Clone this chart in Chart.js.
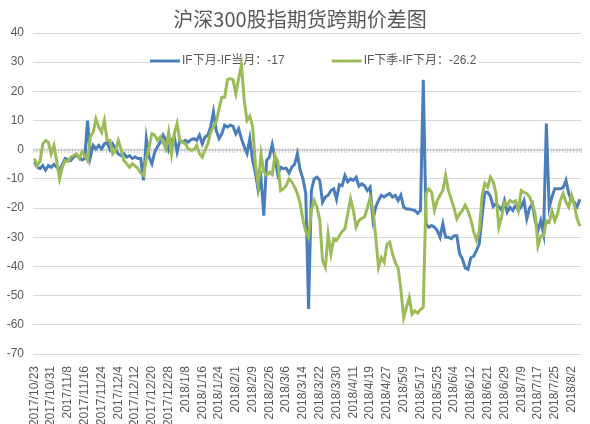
<!DOCTYPE html>
<html>
<head>
<meta charset="utf-8">
<script src="https://cdn.jsdelivr.net/npm/chart.js@4.4.1/dist/chart.umd.min.js"></script>
<style>
  html, body { margin: 0; padding: 0; background: #fff; }
  #wrap { position: relative; width: 590px; height: 424px; }
  #title { position: absolute; left: 0; width: 600px; top: 6px; line-height: 26px; text-align: center;
           font-family: "Noto Sans CJK SC", sans-serif; font-size: 20px; color: #595959; }
</style>
</head>
<body>
<div id="wrap">
  <canvas id="chart" width="590" height="424"></canvas>
  <div id="title">沪深300股指期货跨期价差图</div>
</div>
<script>
// trading days, 2017/10/23 - 2018/8/7
const dates = [
  '2017/10/23','2017/10/24','2017/10/25','2017/10/26','2017/10/27','2017/10/30','2017/10/31',
  '2017/11/1','2017/11/2','2017/11/3','2017/11/6','2017/11/7','2017/11/8','2017/11/9','2017/11/10','2017/11/13','2017/11/14','2017/11/15','2017/11/16','2017/11/17','2017/11/20','2017/11/21','2017/11/22','2017/11/23','2017/11/24','2017/11/27','2017/11/28','2017/11/29','2017/11/30',
  '2017/12/1','2017/12/4','2017/12/5','2017/12/6','2017/12/7','2017/12/8','2017/12/11','2017/12/12','2017/12/13','2017/12/14','2017/12/15','2017/12/18','2017/12/19','2017/12/20','2017/12/21','2017/12/22','2017/12/25','2017/12/26','2017/12/27','2017/12/28','2017/12/29',
  '2018/1/2','2018/1/3','2018/1/4','2018/1/5','2018/1/8','2018/1/9','2018/1/10','2018/1/11','2018/1/12','2018/1/15','2018/1/16','2018/1/17','2018/1/18','2018/1/19','2018/1/22','2018/1/23','2018/1/24','2018/1/25','2018/1/26','2018/1/29','2018/1/30','2018/1/31',
  '2018/2/1','2018/2/2','2018/2/5','2018/2/6','2018/2/7','2018/2/8','2018/2/9','2018/2/12','2018/2/13','2018/2/14','2018/2/22','2018/2/23','2018/2/26','2018/2/27','2018/2/28',
  '2018/3/1','2018/3/2','2018/3/5','2018/3/6','2018/3/7','2018/3/8','2018/3/9','2018/3/12','2018/3/13','2018/3/14','2018/3/15','2018/3/16','2018/3/19','2018/3/20','2018/3/21','2018/3/22','2018/3/23','2018/3/26','2018/3/27','2018/3/28','2018/3/29','2018/3/30',
  '2018/4/2','2018/4/3','2018/4/4','2018/4/9','2018/4/10','2018/4/11','2018/4/12','2018/4/13','2018/4/16','2018/4/17','2018/4/18','2018/4/19','2018/4/20','2018/4/23','2018/4/24','2018/4/25','2018/4/26','2018/4/27',
  '2018/5/2','2018/5/3','2018/5/4','2018/5/7','2018/5/8','2018/5/9','2018/5/10','2018/5/11','2018/5/14','2018/5/15','2018/5/16','2018/5/17','2018/5/18','2018/5/21','2018/5/22','2018/5/23','2018/5/24','2018/5/25','2018/5/28','2018/5/29','2018/5/30','2018/5/31',
  '2018/6/1','2018/6/4','2018/6/5','2018/6/6','2018/6/7','2018/6/8','2018/6/11','2018/6/12','2018/6/13','2018/6/14','2018/6/15','2018/6/19','2018/6/20','2018/6/21','2018/6/22','2018/6/25','2018/6/26','2018/6/27','2018/6/28','2018/6/29',
  '2018/7/2','2018/7/3','2018/7/4','2018/7/5','2018/7/6','2018/7/9','2018/7/10','2018/7/11','2018/7/12','2018/7/13','2018/7/16','2018/7/17','2018/7/18','2018/7/19','2018/7/20','2018/7/23','2018/7/24','2018/7/25','2018/7/26','2018/7/27','2018/7/30','2018/7/31',
  '2018/8/1','2018/8/2','2018/8/3','2018/8/6','2018/8/7'
];

// IF下月-IF当月
const nextMinusCur = [
  -4.2, -6, -6.5, -5.4, -7, -5.4, -6, -5, -6, -7,
  -5, -3, -3.5, -3.7, -2.5, -2, -2.5, -3.5, -3, 10,
  -2.5, 1.5, 0.3, 1.5, 0.3, 2, 2.6, 0, 2, 0.3,
  -1.5, -2, -1.4, -2.5, -2, -3, -2.5, -3, -3, -10.5,
  3.8, -2.5, -4.8, -0.8, 1, 2.6, 5, 3.2, 0, 3.2,
  4.4, -0.8, 3.2, 2.6, 3.2, 2.6, 3.5, 3.8, 3.2, 5,
  2, 4.4, 5, 7.8, 13, 6.6, 3.8, 5.5, 8.4, 7.8,
  8.4, 8, 5.5, 7.2, 3.8, 1, -1.3, 3.8, -3.6, -8,
  -14, -10, -22.6, -3.7, -2.5, 1.8, -3, -8.5, -6, -6.5,
  -6.3, -8, -6, -5, -1.4, -7, -10, -15, -54.6, -14,
  -10, -9.4, -10.5, -18, -16.2, -15.6, -14, -13.4, -17, -12,
  -12.3, -8.8, -11, -10, -10.5, -9.4, -12.5, -11.7, -12.3, -14,
  -12.8, -24, -19.7, -17.4, -15.6, -16.2, -15.5, -15, -16.2, -15.6,
  -17.4, -15.6, -19.7, -20.3, -20.3, -20.6, -20.8, -21.8, -20.8, 24,
  -25.4, -26.6, -26, -26.5, -27.7, -30, -25.4, -30, -30, -30.5,
  -29.5, -29.5, -35.7, -37.5, -40.5, -41, -37, -36.5, -34.6, -32.3,
  -23, -14.6, -14.6, -16, -19.5, -18.5, -19.5, -20.8, -17.4, -21.4,
  -19.7, -20.8, -19, -20.8, -19.5, -17.4, -23.7, -20, -18.5, -24.3,
  -27.7, -24.3, -28.8, 9, -19.7, -16.2, -13.4, -13.4, -13.4, -13,
  -10.5, -15, -17.4, -18, -19.5, -17
];

// IF下季-IF下月
const quarterMinusNext = [
  -3, -5.5, -4, 2, 3.2, 2.6, -1.4, 1.5, -4, -10,
  -6, -3.7, -4, -2.5, -2, -1.4, -3, -0.8, -2, -3.7,
  4.4, 6, 10.6, 7.8, 6, 10, 3.2, 3.2, -1.4, -0.2,
  3.2, 0, -3.7, -4.8, -6, -4.8, -5.5, -6.5, -8, -8.8,
  -3, 1, 5.5, 5, 3.2, 4.4, 2.6, 0.3, 6, -1.4,
  5.5, 9, 3.2, 2.6, 2, 0.3, -0.2, 0, 1.5, -1.4,
  -2.5, 0, 2, 6, 8, 9.5, 14, 18, 18, 24,
  24.4, 24, 19.2, 24.4, 29, 17, 10, 11.5, 8, -4.8,
  -12, -1.5, -7.5, -8.8, -7.7, -8.5, -2, -4, -14, -13.4,
  -12.3, -10, -11, -12.8, -15, -18.5, -24, -28, -30, -20.8,
  -17.4, -19.7, -24, -38, -40.3, -29, -35.7, -30.5, -31, -29.5,
  -28, -27, -22, -16.8, -20.8, -26.5, -24.3, -23.5, -23, -20,
  -16.5, -20.3, -30, -40.3, -37, -38.6, -32.5, -31.7, -35.7, -38.6,
  -40.5, -48, -57.5, -54, -50.6, -56.3, -55.2, -56, -54.8, -54,
  -15, -13.4, -14.6, -20.8, -17.4, -15.6, -14, -8.8, -14, -17,
  -20, -23.7, -22, -20.8, -19, -21, -24, -28, -31, -28,
  -16, -11.5, -12.8, -9.4, -11, -15, -26.6, -23, -18, -19,
  -17.4, -18, -17.5, -20.8, -14, -14.6, -15, -16.2, -18.5, -22,
  -32.9, -29.5, -29.5, -24.3, -24.9, -21, -24.3, -22, -17.4, -15,
  -18, -19.7, -15.6, -19, -23.7, -26.2
];

const seriesNames = ['IF下月-IF当月：-17', 'IF下季-IF下月：-26.2'];
const seriesColors = ['#4a7ebb', '#9bbb59'];
const yMin = -70, yMax = 40, yStep = 10;
const labelEvery = 6;

const textFont = '12px "Liberation Sans", "Noto Sans CJK SC", sans-serif';

// legend sits inside the plot (excel style): white box over the grid, lines drawn over it
const insideLegend = {
  id: 'insideLegend',
  beforeDatasetsDraw(chart) {
    const ctx = chart.ctx;
    const x0 = 150, yc = 61, swatch = 30, gap = 47;
    ctx.save();
    ctx.font = textFont;
    const w0 = ctx.measureText(seriesNames[0]).width;
    const w1 = ctx.measureText(seriesNames[1]).width;
    const total = swatch + 2 + w0 + gap + swatch + 2 + w1 + 3;
    ctx.fillStyle = '#fff';
    ctx.fillRect(x0, yc - 8, total, 16);
    let x = x0;
    [w0, w1].forEach((w, i) => {
      ctx.fillStyle = seriesColors[i];
      ctx.fillRect(x, yc - 1.5, swatch, 3);
      ctx.fillStyle = '#595959';
      ctx.textBaseline = 'middle';
      ctx.fillText(seriesNames[i], x + swatch + 2, yc);
      x += swatch + 2 + w + gap;
    });
    ctx.restore();
  }
};

// category axis crossing at 0, with a small tick for every day
const zeroAxis = {
  id: 'zeroAxis',
  beforeDatasetsDraw(chart) {
    const {ctx, chartArea, scales: {x, y}} = chart;
    const y0 = Math.round(y.getPixelForValue(0)) + 0.5;
    const half = (x.getPixelForValue(1) - x.getPixelForValue(0)) / 2;
    ctx.save();
    ctx.strokeStyle = '#d0d0d0';
    ctx.lineWidth = 1;
    ctx.beginPath();
    ctx.moveTo(chartArea.left, y0);
    ctx.lineTo(chartArea.right, y0);
    for (let i = 0; i <= dates.length; i++) {
      const px = Math.round(x.getPixelForValue(i) - half) + 0.5;
      ctx.moveTo(px, y0 - 2.5);
      ctx.lineTo(px, y0 + 2.5);
    }
    ctx.stroke();
    ctx.restore();
  }
};

const tickFont = {family: '"Liberation Sans", Arial, sans-serif', size: 12};

new Chart(document.getElementById('chart'), {
  type: 'line',
  plugins: [zeroAxis, insideLegend],
  data: {
    labels: dates,
    datasets: [
      {
        label: seriesNames[0],
        data: nextMinusCur,
        borderColor: seriesColors[0],
        borderWidth: 3,
        pointRadius: 0,
        tension: 0,
        order: 1
      },
      {
        label: seriesNames[1],
        data: quarterMinusNext,
        borderColor: seriesColors[1],
        borderWidth: 3,
        pointRadius: 0,
        tension: 0,
        order: 0
      }
    ]
  },
  options: {
    responsive: false,
    animation: false,
    events: [],
    layout: {padding: {left: 0, right: 3, top: 33, bottom: 0}},
    plugins: {
      legend: {display: false},
      title: {display: false},
      tooltip: {enabled: false}
    },
    scales: {
      x: {
        offset: true,
        grid: {display: false},
        border: {display: false},
        ticks: {
          autoSkip: false,
          minRotation: 90,
          maxRotation: 90,
          padding: 4,
          color: '#595959',
          font: tickFont,
          callback: function (val, idx) {
            return idx % labelEvery === 0 ? dates[idx] : null;
          }
        },
        afterFit: s => { s.height = 70; }
      },
      y: {
        min: yMin,
        max: yMax,
        grid: {color: '#d9d9d9', lineWidth: 1, drawTicks: false},
        border: {display: false},
        ticks: {stepSize: yStep, padding: 9, color: '#595959', font: tickFont},
        afterFit: s => { s.width = 33; }
      }
    }
  }
});
</script>
</body>
</html>
